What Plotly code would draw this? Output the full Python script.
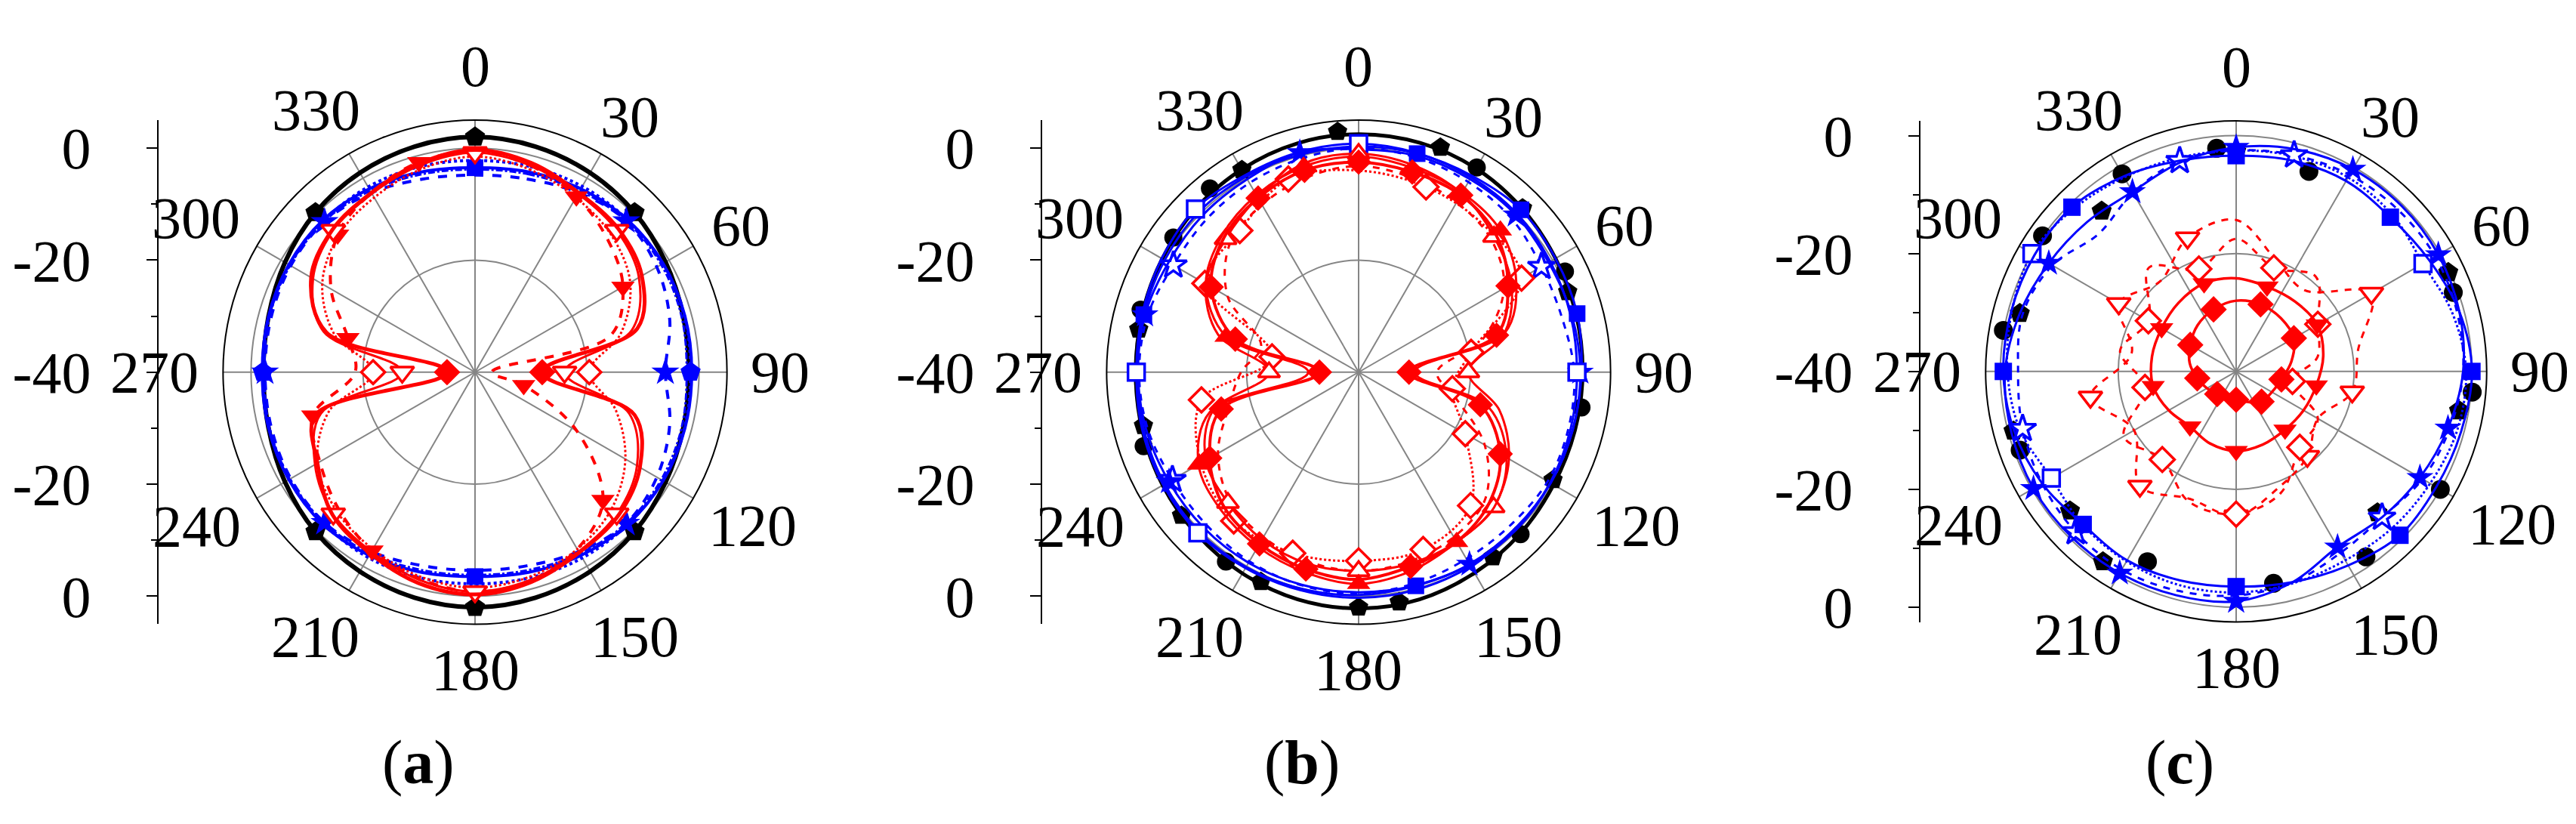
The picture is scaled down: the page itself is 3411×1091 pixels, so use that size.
import math
import plotly.graph_objects as go

W, H = 3411, 1091
FONT = "Liberation Serif, Times New Roman, serif"
BLACK, BLUE, RED = "#000000", "#0000FF", "#FF0000"

# ---------------- angle grids / tick labels ----------------
TH15 = list(range(0, 360, 15))
TH20 = list(range(0, 360, 20))
ANG_TICKS = list(range(0, 360, 30))
ANG_LABELS = [str(a) for a in ANG_TICKS]
RAD_TICK_VALUES = [0, -20, -40, -20, 0]          # dB, top to bottom of the left axis
RAD_TICK_TEXT = ["0", "-20", "-40", "-20", "0"]

# ---------------- panel (a) ----------------
A_BLACK = [2.0, 1.7, 1.1, 0.3, -0.7, -1.5, -1.8, -1.5, -0.7, 0.3, 1.1, 1.7,
           2.0, 1.7, 1.1, 0.3, -0.8, -1.8, -2.2, -1.8, -0.8, 0.3, 1.1, 1.7]
A_BLACK_MK = [0, 45, 135, 180, 225, 315]
A_BLUE_SOLID = [-3.5, -3.0, -2.2, -1.5, -1.2, -1.2, -1.3, -1.2, -1.2, -1.5, -2.2, -3.0,
                -3.5, -3.0, -2.2, -1.6, -1.6, -1.8, -2.0, -1.8, -1.6, -1.6, -2.2, -3.0]
A_BLUE_SOLID_MK = [0, 180]
A_BLUE_DOT = [-2.2, -2.0, -1.7, -1.5, -1.3, -1.3, -1.5, -1.3, -1.3, -1.5, -1.7, -2.0,
              -2.2, -2.0, -1.8, -1.8, -1.8, -1.9, -2.1, -1.9, -1.8, -1.8, -1.8, -2.0]
A_BLUE_DOT_MK = [90, 270]
A_BLUE_DASH = [-4.8, -4.3, -3.0, -1.8, -2.5, -4.0, -6.0, -4.0, -2.5, -1.8, -3.0, -4.2,
               -4.6, -4.2, -3.0, -2.0, -2.0, -2.3, -2.5, -2.3, -2.0, -2.0, -3.0, -4.3]
A_BLUE_DASH_MK = [45, 90, 135, 225, 270, 315]
A_BLUE_DASHDOT = [-3.8, -3.4, -2.6, -1.8, -1.6, -1.8, -2.2, -1.8, -1.6, -1.8, -2.6, -3.4,
                  -3.8, -3.4, -2.6, -1.9, -1.8, -2.0, -2.4, -2.0, -1.8, -1.9, -2.6, -3.4]
A_RED_1 = [-0.3, -1.3, -3.0, -3.8, -5.6, -10.0, -28.0, -10.5, -6.0, -3.8, -2.8, -1.2,
           -0.3, -1.0, -2.6, -4.0, -7.5, -10.5, -35.0, -12.5, -6.2, -4.0, -3.0, -1.4]
A_RED_1_MK = [90, 270]
A_RED_2 = [-0.8, -1.8, -3.2, -4.2, -6.2, -11.0, -24.0, -11.5, -6.6, -4.2, -3.0, -1.6,
           -0.8, -1.6, -3.0, -4.2, -7.0, -11.5, -27.0, -12.0, -6.6, -4.2, -3.2, -1.8]
A_RED_2_MK = [0, 45, 90, 135, 180, 225, 270, 315]
A_RED_3 = [-0.6, -1.8, -3.8, -6.5, -9.5, -15.0, -37.0, -31.0, -19.0, -7.7, -3.5, -1.5,
           -0.8, -1.8, -3.2, -5.5, -8.0, -10.0, -18.6, -16.5, -10.3, -5.3, -3.0, -1.2]
A_RED_3_MK = [30, 60, 105, 135, 210, 255, 285, 315, 345]
A_RED_4 = [-1.5, -2.5, -4.0, -5.5, -8.0, -13.0, -19.6, -14.0, -9.0, -5.5, -3.5, -2.2,
           -1.5, -2.2, -3.5, -5.0, -7.5, -13.0, -21.8, -14.0, -8.5, -5.5, -4.0, -2.5]
A_RED_4_MK = [90, 270]

# ---------------- panel (b) ----------------
B_BLACK = [2.5, 2.4, 2.0, 1.3, 0.6, 0.2, 0.0, 0.0, 0.2, 0.8, 1.4, 2.0,
           2.2, 2.0, 1.5, 0.9, 0.4, 0.0, -0.2, 0.0, 0.5, 1.2, 1.8, 2.3]
B_BLACK_CIRC_TH = [30, 64, 99, 135, 215, 251, 286, 306, 321]
B_BLACK_CIRC_R = [2.2, 1.0, 0.3, 0.9, 1.3, 0.6, 0.5, 0.9, 2.2]
B_BLACK_PENT_TH = [355, 20, 45, 69, 119, 144, 170, 180, 205, 231, 256, 281, 330]
B_BLACK_PENT_R = [3.1, 2.7, 1.4, 0.0, -0.3, 0.8, 1.7, 2.0, 1.3, 0.7, -0.4, 0.0, 1.7]
B_BLUE_SOLID = [0.8, 0.5, 0.2, 0.0, -0.5, -0.8, -1.0, -0.8, -0.5, -0.3, 0.0, 0.2,
                0.3, 0.3, 0.4, 0.6, 0.3, 0.0, -0.3, 0.0, 0.6, 1.2, 0.6, 0.7]
B_BLUE_SOLID_MK = [0, 90, 225, 270, 315]
B_BLUE_SOLID2 = [0.3, 0.4, 0.5, 1.0, 0.6, 0.4, -0.2, -0.4, -0.4, -0.2, -0.3, -0.5,
                 -0.2, 0.0, 0.2, 0.3, 0.0, -0.3, -0.5, -0.3, 0.0, 0.4, 0.3, 0.2]
B_BLUE_SOLID2_MK = [15, 45, 75, 165, 285]
B_BLUE_STAR = [-0.2, 0.0, -0.2, -0.3, -0.8, -0.6, -0.4, -0.4, -0.4, -0.5, -0.4, -0.6,
               -0.7, -0.7, -0.7, -0.8, -0.9, -0.7, -0.6, -0.5, -0.8, -0.5, -0.2, 0.6]
B_BLUE_STAR_MK = [45, 90, 150, 240, 285, 345]
B_BLUE_DASH = [0.0, -0.3, -0.8, -1.3, -2.3, -2.4, -1.5, -1.2, -1.0, -1.5, -1.5, -1.0,
               -0.5, -0.6, -1.0, -1.5, -1.6, -1.0, -0.8, -1.0, -1.8, -1.5, -1.0, -0.5]
B_BLUE_DASH_MK = [60, 240, 300]
B_RED_1 = [-2.5, -3.0, -3.5, -5.3, -9.2, -14.5, -31.0, -17.5, -10.8, -7.0, -5.0, -4.1,
           -3.0, -3.6, -4.6, -6.0, -9.3, -14.6, -33.0, -17.2, -9.6, -6.0, -4.1, -2.7]
B_RED_1_MK = [0, 15, 30, 60, 75, 90, 105, 120, 165, 195, 210, 240, 255, 270, 285, 300, 330, 345]
B_RED_2 = [-1.5, -2.3, -3.0, -4.2, -7.5, -13.0, -30.0, -16.0, -9.5, -5.8, -5.0, -3.3,
           -2.2, -3.0, -4.0, -5.2, -7.0, -12.5, -31.0, -15.5, -8.5, -5.5, -3.5, -2.0]
B_RED_2_MK = [45, 150, 180, 240, 285, 345]
B_RED_3 = [-1.0, -1.8, -3.2, -5.8, -8.5, -13.0, -20.4, -14.0, -9.0, -5.9, -5.0, -4.6,
           -4.5, -4.6, -5.5, -7.0, -8.5, -13.0, -24.0, -14.0, -8.5, -6.4, -4.0, -1.5]
B_RED_3_MK = [0, 45, 90, 135, 180, 225, 270, 315]
B_RED_4 = [-4.0, -4.8, -5.5, -6.4, -19.6, -23.0, -18.0, -8.9, -6.3,
           -6.3, -5.6, -5.3, -7.5, -11.5, -24.3, -8.3, -7.0, -3.3]          # on TH20
B_RED_4_MK = [20, 60, 80, 100, 120, 140, 160, 180, 200, 220, 260, 280, 300, 320, 340]
B_RED_5 = [-3.2, -4.0, -5.0, -6.5, -10.0, -17.0, -26.0, -22.0, -14.0, -8.0, -6.0, -5.0,
           -4.5, -5.0, -6.0, -7.5, -11.0, -16.0, -19.0, -22.0, -13.0, -7.5, -5.5, -4.0]

# ---------------- panel (c) ----------------
C_BLACK_CIRC_TH = [355, 20, 70, 95, 120, 145, 170, 205, 250, 280, 305, 330]
C_BLACK_CIRC_R = [-2.0, -3.9, -0.8, 0.2, 0.0, -1.6, -3.5, -4.4, -1.0, 0.1, 0.1, -1.3]
C_BLACK_PENT_TH = [0, 65, 100, 135, 215, 230, 255, 285, 320]
C_BLACK_PENT_R = [-2.7, -0.3, -1.6, -6.1, -0.6, -3.2, -0.9, -2.0, -4.5]
C_BLUE_1 = [-3.4, -3.0, -2.7, -3.0, -2.2, -0.8, 0.0, -0.5, -0.8, -0.7, -2.0, -3.0,
            -3.5, -3.3, -3.0, -3.3, -2.0, -1.0, -0.5, -0.5, -0.5, -0.6, -1.8, -3.0]
C_BLUE_1_MK = [0, 45, 90, 135, 180, 225, 270, 315]
C_BLUE_2 = [-2.0, -1.0, -0.4, -0.3, -0.4, -0.8, -1.5, -2.8, -4.0, -5.0, -5.6, -3.0,
            -1.0, -0.7, -0.5, -0.4, -0.3, -0.5, -0.8, -2.0, -3.3, -4.2, -4.8, -3.3]
C_BLUE_2_MK = [0, 30, 60, 105, 120, 150, 180, 210, 240, 300, 330]
C_BLUE_3 = [-2.5, -2.0, -1.5, -1.2, -1.0, -1.2, -1.5, -2.5, -3.5, -5.0, -4.5, -3.0,
            -2.0, -1.5, -1.2, -1.5, -2.0, -2.5, -3.0, -2.5, -4.0, -7.0, -5.0, -3.0]
C_BLUE_3_MK = [15, 135, 225, 255, 345]
C_BLUE_4 = [-2.5, -2.2, -2.0, -2.5, -3.4, -2.0, -1.0, -1.2, -2.0, -2.5, -3.0, -2.8,
            -2.5, -2.5, -2.8, -3.2, -3.8, -2.0, -1.2, -0.6, 0.0, -1.0, -2.0, -2.5]
C_BLUE_4_MK = [60, 240, 300]
C_RED_1 = [-28.0, -27.9, -28.2, -28.7, -30.5, -32.2, -33.0, -33.3, -34.5,
           -35.2, -35.2, -35.0, -34.3, -33.3, -32.0, -31.0, -29.8, -28.8]      # on TH20
C_RED_1_MK = [20, 60, 100, 140, 180, 220, 260, 300, 340]
C_RED_2 = [-24.2, -24.7, -24.5, -24.1, -25.0, -26.2, -26.8, -27.1, -26.8,
           -26.5, -27.0, -27.8, -26.8, -25.7, -25.5, -25.4, -24.8, -24.1]
C_RED_2_MK = [20, 60, 100, 140, 180, 220, 260, 300, 340]
C_RED_3 = [-17.5, -21.3, -19.0, -24.0, -26.0, -30.3, -24.0, -23.2, -18.0,
           -15.8, -16.5, -20.5, -18.0, -24.3, -20.0, -22.8, -17.0, -21.5]
C_RED_3_MK = [20, 60, 100, 140, 180, 220, 260, 300, 340]
C_RED_4 = [-14.3, -20.0, -22.0, -13.5, -19.0, -20.0, -24.0, -21.2, -19.0,
           -15.5, -17.0, -14.6, -20.0, -14.9, -22.0, -17.0, -20.0, -15.9]
C_RED_4_MK = [60, 100, 140, 180, 220, 260, 300, 340]

# ---------------- series specs ----------------
def S(th, r, color, dash="solid", width=3, mk=None, symbol=None, size=24, filled=True, line=True):
    return dict(th=th, r=r, color=color, dash=dash, width=width, mk=mk or [],
                symbol=symbol, size=size, filled=filled, line=line)

SERIES_A = [
    S(TH15, A_BLACK, BLACK, "solid", 6, A_BLACK_MK, "pentagon", 28),
    S(TH15, A_BLUE_DASHDOT, BLUE, "dashdot", 3),
    S(TH15, A_BLUE_DOT, BLUE, "dot", 4, A_BLUE_DOT_MK, "pentagon", 28),
    S(TH15, A_BLUE_DASH, BLUE, "dash", 4, A_BLUE_DASH_MK, "star", 28),
    S(TH15, A_BLUE_SOLID, BLUE, "solid", 4, A_BLUE_SOLID_MK, "square", 22),
    S(TH15, A_RED_4, RED, "dot", 3, A_RED_4_MK, "diamond", 24, False),
    S(TH15, A_RED_3, RED, "dash", 4, A_RED_3_MK, "triangle-down", 27),
    S(TH15, A_RED_2, RED, "solid", 3, A_RED_2_MK, "triangle-down", 27, False),
    S(TH15, A_RED_1, RED, "solid", 5, A_RED_1_MK, "diamond", 27),
]
SERIES_B = [
    S(TH15, B_BLACK, BLACK, "solid", 5),
    S(B_BLACK_CIRC_TH, B_BLACK_CIRC_R, BLACK, mk=B_BLACK_CIRC_TH, symbol="circle", size=24, line=False),
    S(B_BLACK_PENT_TH, B_BLACK_PENT_R, BLACK, mk=B_BLACK_PENT_TH, symbol="pentagon", size=27, line=False),
    S(TH15, B_BLUE_DASH, BLUE, "dash", 3, B_BLUE_DASH_MK, "star", 27, False),
    S(TH15, B_BLUE_STAR, BLUE, "solid", 3, B_BLUE_STAR_MK, "star", 27),
    S(TH15, B_BLUE_SOLID2, BLUE, "solid", 3, B_BLUE_SOLID2_MK, "square", 22),
    S(TH15, B_BLUE_SOLID, BLUE, "solid", 3, B_BLUE_SOLID_MK, "square", 22, False),
    S(TH15, B_RED_5, RED, "dash", 3),
    S(TH20, B_RED_4, RED, "dot", 3, B_RED_4_MK, "diamond", 25, False),
    S(TH15, B_RED_3, RED, "solid", 3, B_RED_3_MK, "triangle-up", 25, False),
    S(TH15, B_RED_2, RED, "solid", 3, B_RED_2_MK, "triangle-up", 27),
    S(TH15, B_RED_1, RED, "solid", 4, B_RED_1_MK, "diamond", 26),
]
SERIES_C = [
    S(C_BLACK_CIRC_TH, C_BLACK_CIRC_R, BLACK, mk=C_BLACK_CIRC_TH, symbol="circle", size=25, line=False),
    S(C_BLACK_PENT_TH, C_BLACK_PENT_R, BLACK, mk=C_BLACK_PENT_TH, symbol="pentagon", size=28, line=False),
    S(TH15, C_BLUE_4, BLUE, "dot", 3, C_BLUE_4_MK, "square", 22, False),
    S(TH15, C_BLUE_3, BLUE, "dash", 3, C_BLUE_3_MK, "star", 27, False),
    S(TH15, C_BLUE_2, BLUE, "solid", 3, C_BLUE_2_MK, "star", 27),
    S(TH15, C_BLUE_1, BLUE, "solid", 3, C_BLUE_1_MK, "square", 23),
    S(TH20, C_RED_4, RED, "dash", 3, C_RED_4_MK, "triangle-down", 27, False),
    S(TH20, C_RED_3, RED, "dash", 3, C_RED_3_MK, "diamond", 25, False),
    S(TH20, C_RED_2, RED, "solid", 3.5, C_RED_2_MK, "triangle-down", 27),
    S(TH20, C_RED_1, RED, "solid", 3.5, C_RED_1_MK, "diamond", 27),
]

PANELS = [
    dict(cx=621, cy=483, R=349, rmax=5.0, axis_x=202, label="a", series=SERIES_A),
    dict(cx=1791, cy=483, R=349, rmax=5.0, axis_x=1372, label="b", series=SERIES_B),
    dict(cx=2953, cy=482, R=347, rmax=2.5, axis_x=2535, label="c", series=SERIES_C),
]

# distance (px) of each angular tick label's centre beyond the outer ring
LABEL_GAP = [75, 60, 58, 55, 75, 73, 63, 73, 77, 76, 78, 71]
TICK_FONT = dict(family=FONT, size=78, color="black")

fig = go.Figure()
layout = dict(width=W, height=H, margin=dict(l=0, r=0, t=0, b=0), autosize=False,
              paper_bgcolor="white", plot_bgcolor="white", showlegend=False,
              font=dict(family=FONT, color="black"))
annotations = []

for i, p in enumerate(PANELS):
    under = "polar" if i == 0 else f"polar{2 * i + 1}"
    over = f"polar{2 * i + 2}"
    xd = [(p["cx"] - p["R"] - 6) / W, (p["cx"] + p["R"] + 6) / W]
    yd = [1 - (p["cy"] + p["R"]) / H, 1 - (p["cy"] - p["R"]) / H]
    rng = [-40, p["rmax"]]
    layout[under] = dict(
        domain=dict(x=xd, y=yd), bgcolor="white",
        radialaxis=dict(range=rng, tickvals=[-30, -10], showticklabels=False, ticks="",
                        showline=False, showgrid=True, gridcolor="#c4c4c4", gridwidth=1.5,
                        griddash="6px,5px"),
        angularaxis=dict(rotation=90, direction="clockwise", tickvals=list(range(0, 360, 15)),
                         showticklabels=False, ticks="inside", ticklen=11, tickwidth=2,
                         tickcolor="black", showline=True, linecolor="black", linewidth=2,
                         showgrid=True, gridcolor="#c4c4c4", gridwidth=1.5,
                         griddash="6px,5px"),
    )
    layout[over] = dict(
        domain=dict(x=xd, y=yd), bgcolor="rgba(0,0,0,0)",
        radialaxis=dict(range=rng, tickvals=[-20, 0], showticklabels=False, ticks="",
                        showline=False, showgrid=True, gridcolor="#858585", gridwidth=2),
        angularaxis=dict(rotation=90, direction="clockwise", tickmode="array",
                         tickvals=ANG_TICKS, ticktext=ANG_LABELS, ticks="",
                         showticklabels=False,
                         showline=True, linecolor="black", linewidth=2,
                         showgrid=True, gridcolor="#858585", gridwidth=2),
    )
    for s in p["series"]:
        if s["line"]:
            t = list(s["th"]) + [s["th"][0] + 360]
            v = list(s["r"]) + [s["r"][0]]
            fig.add_trace(go.Scatterpolar(
                theta=t, r=v, mode="lines", subplot=over, hoverinfo="skip",
                line=dict(color=s["color"], dash=s["dash"], width=s["width"],
                          shape="spline", smoothing=1.0)))
        if s["mk"]:
            mt = list(s["mk"])
            mr = [s["r"][list(s["th"]).index(a)] for a in mt]
            fig.add_trace(go.Scatterpolar(
                theta=mt, r=mr, mode="markers", subplot=over, hoverinfo="skip",
                marker=dict(symbol=s["symbol"], size=s["size"],
                            color=s["color"] if s["filled"] else "white",
                            line=dict(color=s["color"], width=0 if s["filled"] else 3.5))))
    # angular tick labels, placed just outside the ring
    for ang, txt, gap in zip(ANG_TICKS, ANG_LABELS, LABEL_GAP):
        d = p["R"] + gap
        a = math.radians(ang)
        annotations.append(dict(text=txt, x=(p["cx"] + d * math.sin(a)) / W,
                                y=1 - (p["cy"] - d * math.cos(a)) / H,
                                xref="paper", yref="paper", showarrow=False,
                                xanchor="center", yanchor="middle", font=TICK_FONT))
    # left radial axis (cartesian)
    xa = "xaxis" if i == 0 else f"xaxis{i + 1}"
    ya = "yaxis" if i == 0 else f"yaxis{i + 1}"
    xs = "x" if i == 0 else f"x{i + 1}"
    ys = "y" if i == 0 else f"y{i + 1}"
    ax_x = p["axis_x"] / W
    layout[xa] = dict(domain=[ax_x, ax_x + 0.01], range=[0, 1], visible=False, anchor=ys,
                      fixedrange=True)
    half = 40 + p["rmax"]
    pos = [(40 + v) if k < 2 else (-(40 + v) if k > 2 else 0)
           for k, v in enumerate(RAD_TICK_VALUES)]
    layout[ya] = dict(domain=yd, range=[-half, half], anchor=xs, tickmode="array",
                      tickvals=pos, ticktext=RAD_TICK_TEXT, ticks="outside", ticklen=14,
                      tickwidth=2, tickcolor="black", showline=True, linecolor="black",
                      linewidth=2, showgrid=False, zeroline=False, fixedrange=True,
                      ticklabelstandoff=58, tickfont=TICK_FONT,
                      minor=dict(tickvals=[-30, -10, 10, 30], ticks="outside", ticklen=8,
                                 tickwidth=2, tickcolor="black", showgrid=False))
    fig.add_trace(go.Scatter(x=[0.5], y=[0], xaxis=xs, yaxis=ys, mode="markers",
                             marker=dict(opacity=0), hoverinfo="skip"))
    annotations.append(dict(text=f"(<b>{p['label']}</b>)", x=(p["cx"] - 75) / W,
                            y=1 - 1024 / H, xref="paper", yref="paper", showarrow=False,
                            xanchor="center", yanchor="middle",
                            font=dict(family=FONT, size=82, color="black")))

layout["annotations"] = annotations
fig.update_layout(**layout)
fig.write_html("out.html")
